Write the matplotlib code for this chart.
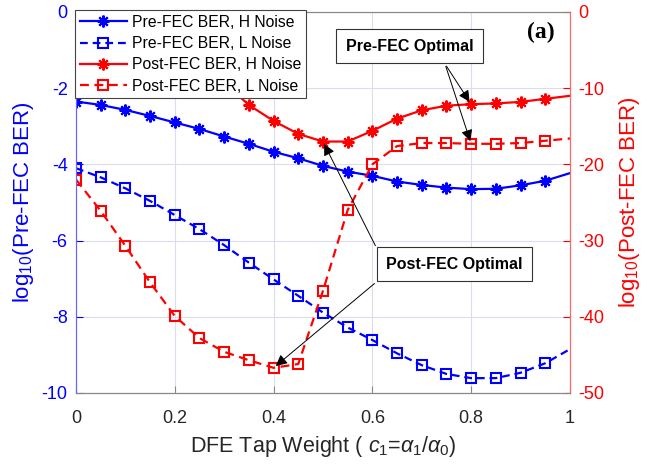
import numpy as np
import matplotlib
matplotlib.use("Agg")
import matplotlib.pyplot as plt

plt.rcParams['font.family'] = ['Liberation Sans', 'DejaVu Sans']
plt.rcParams['mathtext.fontset'] = 'custom'
plt.rcParams['mathtext.rm'] = 'Liberation Sans'
plt.rcParams['mathtext.it'] = 'Liberation Sans:italic'
plt.rcParams['axes.unicode_minus'] = False

# DFE tap weight c1
tap = [0.0, 0.05, 0.1, 0.15, 0.2, 0.25, 0.3, 0.35, 0.4, 0.45, 0.5,
       0.55, 0.6, 0.65, 0.7, 0.75, 0.8, 0.85, 0.9, 0.95, 1.0]

# log10(Pre-FEC BER)
pre_h = [-2.35, -2.44, -2.57, -2.73, -2.90, -3.07, -3.27, -3.46, -3.67, -3.84, -4.04,
         -4.19, -4.30, -4.45, -4.54, -4.61, -4.65, -4.64, -4.55, -4.43, -4.23]
pre_l = [-4.10, -4.34, -4.63, -4.96, -5.33, -5.70, -6.12, -6.58, -7.02, -7.45, -7.89,
         -8.28, -8.61, -8.96, -9.27, -9.50, -9.61, -9.61, -9.47, -9.22, -8.85]

# log10(Post-FEC BER)
post_h = [-0.8, -1.6, -2.6, -3.8, -5.2, -7.1, -9.3, -12.2, -14.3, -16.0, -17.0,
          -17.0, -15.6, -14.0, -12.9, -12.3, -12.1, -12.0, -11.8, -11.4, -11.0]
post_l = [-22.0, -26.1, -30.7, -35.5, -39.9, -42.8, -44.6, -45.7, -46.7, -46.2, -36.6,
          -26.0, -20.0, -17.6, -17.2, -17.2, -17.3, -17.3, -17.2, -16.9, -16.6]

fig = plt.figure(figsize=(6.65, 4.68), dpi=100)
ax1 = fig.add_axes([0.1143, 0.1603, 0.7427, 0.8141])
ax2 = ax1.twinx()

blue = '#0000ff'
red = '#ff0000'
mk = slice(0, 20)
star = (8, 2, 0)

l1, = ax1.plot(tap, pre_h, '-', color=blue, lw=1.6, marker=star, ms=8.5, mew=1.5,
               markevery=mk, label='Pre-FEC BER, H Noise')
l2, = ax1.plot(tap, pre_l, '--', color=blue, lw=1.6, marker='s', ms=6.5, mfc='none',
               mew=1.5, markevery=mk, dashes=(3.5, 2.2), label='Pre-FEC BER, L Noise')
l3, = ax2.plot(tap, post_h, '-', color=red, lw=1.6, marker=star, ms=8.5, mew=1.5,
               markevery=mk, label='Post-FEC BER, H Noise')
l4, = ax2.plot(tap, post_l, '--', color=red, lw=1.6, marker='s', ms=6.5, mfc='none',
               mew=1.5, markevery=mk, dashes=(4, 2.5), label='Post-FEC BER, L Noise')

ax1.set_xlim(0, 1)
ax1.set_ylim(-10, 0)
ax2.set_ylim(-50, 0)
ax1.set_xticks([0, 0.2, 0.4, 0.6, 0.8, 1])
ax1.set_xticklabels(['0', '0.2', '0.4', '0.6', '0.8', '1'])
ax1.set_yticks([-10, -8, -6, -4, -2, 0])
ax2.set_yticks([-50, -40, -30, -20, -10, 0])
ax1.grid(True, color='#dcdcef', lw=0.8)
ax1.set_axisbelow(True)

ax1.tick_params(axis='x', direction='in', colors='#888888', labelcolor='#262626',
                labelsize=13, length=5, pad=12)
ax1.tick_params(axis='y', direction='in', colors=blue, labelsize=13, length=5, pad=6)
ax2.tick_params(axis='y', direction='in', colors=red, labelsize=13, length=5, pad=6)

for a in (ax1, ax2):
    a.spines['top'].set_color('#888888')
    a.spines['bottom'].set_color('#888888')
    a.spines['left'].set_color('#6666ff')
    a.spines['right'].set_color('#ff6666')

ax1.set_ylabel(r'log$_{10}$(Pre-FEC BER)', color=blue, fontsize=16, labelpad=4)
ax2.set_ylabel(r'log$_{10}$(Post-FEC BER)', color=red, fontsize=16, labelpad=9)
ax1.set_xlabel(r'DFE Tap Weight ( $\mathit{c}_1$=$\alpha_1$/$\alpha_0$)', fontsize=15.5,
               color='#262626', labelpad=5)

leg = ax2.legend(handles=[l1, l2, l3, l4], loc='upper left', fontsize=11.3,
                 frameon=True, fancybox=False, edgecolor='#444444', framealpha=1,
                 borderaxespad=0.0, borderpad=0.3, labelspacing=0.4,
                 handlelength=3.0, handletextpad=0.3,
                 bbox_to_anchor=(-0.002, 1.005))
leg.get_frame().set_linewidth(0.8)

arrow = dict(arrowstyle='-|>', color='k', lw=0.7, mutation_scale=17)
box = dict(boxstyle='square,pad=0.6', fc='white', ec='#333333', lw=0.8)

ax2.text(0.676, -4.5, 'Pre-FEC Optimal', ha='center', va='center',
         fontsize=11.5, fontweight='bold', bbox=box, zorder=5)
ax2.annotate('', xy=(tap[16], post_h[16]), xytext=(0.747, -6.8), arrowprops=arrow)
ax2.annotate('', xy=(tap[16], post_l[16]), xytext=(0.747, -6.8), arrowprops=arrow)

ax2.text(0.7666, -33.1, 'Post-FEC Optimal', ha='center', va='center',
         fontsize=11.5, fontweight='bold', bbox=box, zorder=5)
ax2.annotate('', xy=(tap[10], post_h[10]), xytext=(0.6087, -31.0), arrowprops=arrow)
ax2.annotate('', xy=(tap[8], post_l[8]), xytext=(0.6087, -35.4), arrowprops=arrow)

ax2.text(0.941, -2.7, '(a)', ha='center', va='center', fontsize=17,
         fontweight='bold', family='Liberation Serif')

fig.savefig('out.png', dpi=100)
